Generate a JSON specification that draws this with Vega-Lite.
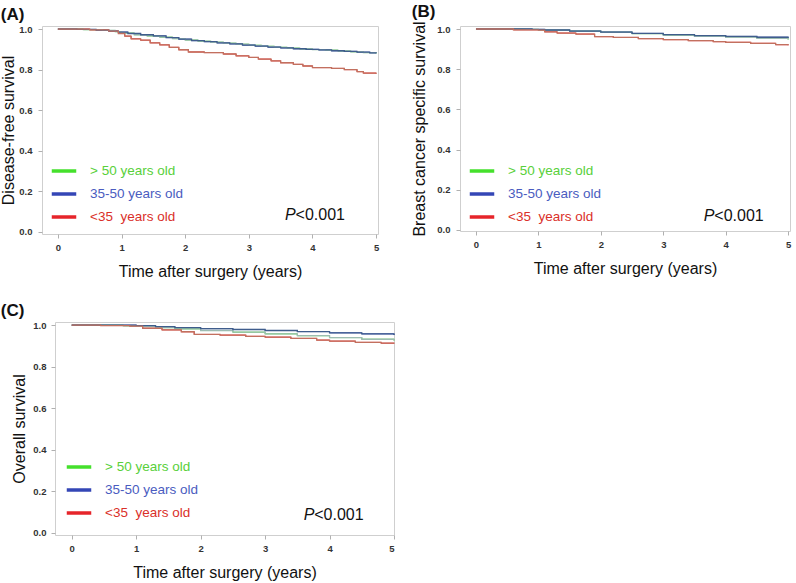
{
  "$schema": "https://vega.github.io/schema/vega-lite/v6.json",
  "padding": {"left": 0, "top": 2, "right": 0, "bottom": 0},
  "background": "white",
  "config": {
    "font": "Liberation Sans",
    "view": {"stroke": "#cfcfcf", "strokeWidth": 1},
    "axis": {"grid": false, "domain": false, "tickColor": "#b0b0b0", "tickSize": 4, "labelFont": "Liberation Sans", "labelFontWeight": "bold", "labelFontSize": 9.5, "labelColor": "#333333", "titleFont": "Liberation Sans", "titleFontWeight": "normal", "titleFontSize": 16, "titleColor": "#111111"},
    "title": {"font": "Liberation Sans", "fontSize": 17, "fontWeight": "bold", "anchor": "start", "frame": "bounds", "color": "#111111"},
    "legend": {"orient": "none", "title": null, "symbolType": "stroke", "symbolStrokeWidth": 3.5, "symbolSize": 600, "symbolOpacity": 1, "labelFontSize": 13.5, "labelOffset": 12, "rowPadding": 2, "padding": 0, "labelFont": "Liberation Sans"}
  },
  "datasets": {
    "a": [
      {"t": 0, "s": 1.0, "g": "> 50 years old"}, {"t": 0.4, "s": 0.997, "g": "> 50 years old"}, {"t": 0.7, "s": 0.993, "g": "> 50 years old"}, {"t": 0.9, "s": 0.987, "g": "> 50 years old"}, {"t": 1.0, "s": 0.98, "g": "> 50 years old"}, {"t": 1.2, "s": 0.972, "g": "> 50 years old"}, {"t": 1.4, "s": 0.966, "g": "> 50 years old"}, {"t": 1.6, "s": 0.96, "g": "> 50 years old"}, {"t": 1.8, "s": 0.953, "g": "> 50 years old"}, {"t": 2.0, "s": 0.946, "g": "> 50 years old"}, {"t": 2.2, "s": 0.94, "g": "> 50 years old"}, {"t": 2.4, "s": 0.935, "g": "> 50 years old"}, {"t": 2.6, "s": 0.93, "g": "> 50 years old"}, {"t": 2.8, "s": 0.925, "g": "> 50 years old"}, {"t": 3.0, "s": 0.92, "g": "> 50 years old"}, {"t": 3.2, "s": 0.915, "g": "> 50 years old"}, {"t": 3.4, "s": 0.91, "g": "> 50 years old"}, {"t": 3.6, "s": 0.906, "g": "> 50 years old"}, {"t": 3.8, "s": 0.902, "g": "> 50 years old"}, {"t": 4.0, "s": 0.899, "g": "> 50 years old"}, {"t": 4.2, "s": 0.896, "g": "> 50 years old"}, {"t": 4.4, "s": 0.892, "g": "> 50 years old"}, {"t": 4.6, "s": 0.888, "g": "> 50 years old"}, {"t": 4.8, "s": 0.884, "g": "> 50 years old"}, {"t": 5.0, "s": 0.88, "g": "> 50 years old"},
      {"t": 0, "s": 1.0, "g": "35-50 years old"}, {"t": 0.3, "s": 0.998, "g": "35-50 years old"}, {"t": 0.6, "s": 0.995, "g": "35-50 years old"}, {"t": 0.8, "s": 0.99, "g": "35-50 years old"}, {"t": 0.95, "s": 0.985, "g": "35-50 years old"}, {"t": 1.1, "s": 0.978, "g": "35-50 years old"}, {"t": 1.3, "s": 0.972, "g": "35-50 years old"}, {"t": 1.5, "s": 0.966, "g": "35-50 years old"}, {"t": 1.7, "s": 0.958, "g": "35-50 years old"}, {"t": 1.9, "s": 0.95, "g": "35-50 years old"}, {"t": 2.1, "s": 0.943, "g": "35-50 years old"}, {"t": 2.3, "s": 0.938, "g": "35-50 years old"}, {"t": 2.5, "s": 0.932, "g": "35-50 years old"}, {"t": 2.7, "s": 0.927, "g": "35-50 years old"}, {"t": 2.9, "s": 0.921, "g": "35-50 years old"}, {"t": 3.1, "s": 0.916, "g": "35-50 years old"}, {"t": 3.3, "s": 0.911, "g": "35-50 years old"}, {"t": 3.5, "s": 0.907, "g": "35-50 years old"}, {"t": 3.7, "s": 0.903, "g": "35-50 years old"}, {"t": 3.9, "s": 0.9, "g": "35-50 years old"}, {"t": 4.1, "s": 0.897, "g": "35-50 years old"}, {"t": 4.3, "s": 0.893, "g": "35-50 years old"}, {"t": 4.5, "s": 0.89, "g": "35-50 years old"}, {"t": 4.7, "s": 0.886, "g": "35-50 years old"}, {"t": 4.9, "s": 0.883, "g": "35-50 years old"}, {"t": 5.0, "s": 0.881, "g": "35-50 years old"},
      {"t": 0, "s": 1.0, "g": "<35\u00a0 years old"}, {"t": 0.5, "s": 0.996, "g": "<35\u00a0 years old"}, {"t": 0.8, "s": 0.99, "g": "<35\u00a0 years old"}, {"t": 0.95, "s": 0.978, "g": "<35\u00a0 years old"}, {"t": 1.05, "s": 0.965, "g": "<35\u00a0 years old"}, {"t": 1.15, "s": 0.952, "g": "<35\u00a0 years old"}, {"t": 1.3, "s": 0.945, "g": "<35\u00a0 years old"}, {"t": 1.45, "s": 0.932, "g": "<35\u00a0 years old"}, {"t": 1.6, "s": 0.922, "g": "<35\u00a0 years old"}, {"t": 1.75, "s": 0.91, "g": "<35\u00a0 years old"}, {"t": 1.9, "s": 0.898, "g": "<35\u00a0 years old"}, {"t": 2.05, "s": 0.887, "g": "<35\u00a0 years old"}, {"t": 2.3, "s": 0.884, "g": "<35\u00a0 years old"}, {"t": 2.6, "s": 0.877, "g": "<35\u00a0 years old"}, {"t": 2.8, "s": 0.868, "g": "<35\u00a0 years old"}, {"t": 3.0, "s": 0.86, "g": "<35\u00a0 years old"}, {"t": 3.15, "s": 0.852, "g": "<35\u00a0 years old"}, {"t": 3.35, "s": 0.843, "g": "<35\u00a0 years old"}, {"t": 3.5, "s": 0.834, "g": "<35\u00a0 years old"}, {"t": 3.7, "s": 0.826, "g": "<35\u00a0 years old"}, {"t": 3.85, "s": 0.818, "g": "<35\u00a0 years old"}, {"t": 4.0, "s": 0.81, "g": "<35\u00a0 years old"}, {"t": 4.3, "s": 0.806, "g": "<35\u00a0 years old"}, {"t": 4.5, "s": 0.8, "g": "<35\u00a0 years old"}, {"t": 4.7, "s": 0.79, "g": "<35\u00a0 years old"}, {"t": 4.8, "s": 0.783, "g": "<35\u00a0 years old"}, {"t": 5.0, "s": 0.78, "g": "<35\u00a0 years old"}
    ],
    "b": [
      {"t": 0, "s": 1.0, "g": "> 50 years old"}, {"t": 0.8, "s": 0.998, "g": "> 50 years old"}, {"t": 1.0, "s": 0.995, "g": "> 50 years old"}, {"t": 1.5, "s": 0.99, "g": "> 50 years old"}, {"t": 2.0, "s": 0.984, "g": "> 50 years old"}, {"t": 2.5, "s": 0.977, "g": "> 50 years old"}, {"t": 3.0, "s": 0.97, "g": "> 50 years old"}, {"t": 3.5, "s": 0.964, "g": "> 50 years old"}, {"t": 4.0, "s": 0.958, "g": "> 50 years old"}, {"t": 4.5, "s": 0.953, "g": "> 50 years old"}, {"t": 5.0, "s": 0.948, "g": "> 50 years old"},
      {"t": 0, "s": 1.0, "g": "35-50 years old"}, {"t": 0.9, "s": 0.998, "g": "35-50 years old"}, {"t": 1.1, "s": 0.995, "g": "35-50 years old"}, {"t": 1.5, "s": 0.99, "g": "35-50 years old"}, {"t": 2.0, "s": 0.985, "g": "35-50 years old"}, {"t": 2.5, "s": 0.978, "g": "35-50 years old"}, {"t": 3.0, "s": 0.972, "g": "35-50 years old"}, {"t": 3.5, "s": 0.967, "g": "35-50 years old"}, {"t": 4.0, "s": 0.963, "g": "35-50 years old"}, {"t": 4.5, "s": 0.959, "g": "35-50 years old"}, {"t": 5.0, "s": 0.955, "g": "35-50 years old"},
      {"t": 0, "s": 1.0, "g": "<35\u00a0 years old"}, {"t": 0.6, "s": 0.996, "g": "<35\u00a0 years old"}, {"t": 1.0, "s": 0.994, "g": "<35\u00a0 years old"}, {"t": 1.1, "s": 0.986, "g": "<35\u00a0 years old"}, {"t": 1.3, "s": 0.98, "g": "<35\u00a0 years old"}, {"t": 1.6, "s": 0.975, "g": "<35\u00a0 years old"}, {"t": 1.9, "s": 0.962, "g": "<35\u00a0 years old"}, {"t": 2.2, "s": 0.958, "g": "<35\u00a0 years old"}, {"t": 2.6, "s": 0.952, "g": "<35\u00a0 years old"}, {"t": 3.0, "s": 0.947, "g": "<35\u00a0 years old"}, {"t": 3.4, "s": 0.942, "g": "<35\u00a0 years old"}, {"t": 3.8, "s": 0.937, "g": "<35\u00a0 years old"}, {"t": 4.0, "s": 0.934, "g": "<35\u00a0 years old"}, {"t": 4.4, "s": 0.929, "g": "<35\u00a0 years old"}, {"t": 4.8, "s": 0.922, "g": "<35\u00a0 years old"}, {"t": 5.0, "s": 0.919, "g": "<35\u00a0 years old"}
    ],
    "c": [
      {"t": 0, "s": 1.0, "g": "> 50 years old"}, {"t": 0.8, "s": 0.997, "g": "> 50 years old"}, {"t": 1.0, "s": 0.994, "g": "> 50 years old"}, {"t": 1.3, "s": 0.988, "g": "> 50 years old"}, {"t": 1.6, "s": 0.982, "g": "> 50 years old"}, {"t": 2.0, "s": 0.974, "g": "> 50 years old"}, {"t": 2.5, "s": 0.966, "g": "> 50 years old"}, {"t": 3.0, "s": 0.958, "g": "> 50 years old"}, {"t": 3.5, "s": 0.949, "g": "> 50 years old"}, {"t": 4.0, "s": 0.94, "g": "> 50 years old"}, {"t": 4.5, "s": 0.932, "g": "> 50 years old"}, {"t": 5.0, "s": 0.926, "g": "> 50 years old"},
      {"t": 0, "s": 1.0, "g": "35-50 years old"}, {"t": 1.0, "s": 0.998, "g": "35-50 years old"}, {"t": 1.3, "s": 0.993, "g": "35-50 years old"}, {"t": 1.6, "s": 0.988, "g": "35-50 years old"}, {"t": 2.0, "s": 0.983, "g": "35-50 years old"}, {"t": 2.5, "s": 0.979, "g": "35-50 years old"}, {"t": 3.0, "s": 0.974, "g": "35-50 years old"}, {"t": 3.5, "s": 0.969, "g": "35-50 years old"}, {"t": 4.0, "s": 0.963, "g": "35-50 years old"}, {"t": 4.5, "s": 0.958, "g": "35-50 years old"}, {"t": 5.0, "s": 0.952, "g": "35-50 years old"},
      {"t": 0, "s": 1.0, "g": "<35\u00a0 years old"}, {"t": 0.45, "s": 0.998, "g": "<35\u00a0 years old"}, {"t": 0.9, "s": 0.995, "g": "<35\u00a0 years old"}, {"t": 1.1, "s": 0.985, "g": "<35\u00a0 years old"}, {"t": 1.4, "s": 0.977, "g": "<35\u00a0 years old"}, {"t": 1.7, "s": 0.968, "g": "<35\u00a0 years old"}, {"t": 1.9, "s": 0.955, "g": "<35\u00a0 years old"}, {"t": 2.3, "s": 0.952, "g": "<35\u00a0 years old"}, {"t": 2.7, "s": 0.946, "g": "<35\u00a0 years old"}, {"t": 3.0, "s": 0.942, "g": "<35\u00a0 years old"}, {"t": 3.4, "s": 0.936, "g": "<35\u00a0 years old"}, {"t": 3.8, "s": 0.928, "g": "<35\u00a0 years old"}, {"t": 4.0, "s": 0.923, "g": "<35\u00a0 years old"}, {"t": 4.4, "s": 0.917, "g": "<35\u00a0 years old"}, {"t": 4.8, "s": 0.913, "g": "<35\u00a0 years old"}, {"t": 5.0, "s": 0.911, "g": "<35\u00a0 years old"}
    ]
  },
  "spacing": 21,
  "resolve": {"scale": {"color": "independent"}, "legend": {"color": "independent"}},
  "vconcat": [
    {
      "spacing": 31,
      "resolve": {"scale": {"color": "independent"}, "legend": {"color": "independent"}},
      "hconcat": [
        {
          "title": {"text": "(A)", "offset": 0},
          "width": 336, "height": 208,
          "resolve": {"scale": {"color": "independent"}, "legend": {"color": "independent"}},
          "layer": [
            {
              "data": {"name": "a"},
              "mark": {"type": "line", "interpolate": "step-after", "strokeWidth": 1},
              "encoding": {
                "x": {"field": "t", "type": "quantitative", "scale": {"domain": [-0.25, 5.03], "nice": false, "zero": false}, "axis": {"values": [0, 1, 2, 3, 4, 5], "format": "d", "title": "Time after surgery (years)", "labelPadding": 4, "titlePadding": 12}},
                "y": {"field": "s", "type": "quantitative", "scale": {"domain": [-0.01, 1.015], "nice": false, "zero": false}, "axis": {"values": [0, 0.2, 0.4, 0.6, 0.8, 1.0], "format": ".1f", "title": "Disease-free survival", "labelPadding": 6, "titlePadding": 2}},
                "color": {"field": "g", "type": "nominal", "scale": {"domain": ["> 50 years old", "35-50 years old", "<35\u00a0 years old"], "range": ["#45e02c", "#3446b6", "#e6242a"]}, "legend": {"legendX": 8, "legendY": 131, "encode": {"labels": {"update": {"fill": {"signal": "indexof(datum.label, '>') === 0 ? '#58d03a' : (indexof(datum.label, '35-') === 0 ? '#4a5cc0' : '#da3029')"}}}}}}
              }
            },
            {
              "data": {"name": "a"},
              "mark": {"type": "line", "interpolate": "step-after", "strokeWidth": 1.3},
              "encoding": {
                "x": {"field": "t", "type": "quantitative"},
                "y": {"field": "s", "type": "quantitative"},
                "color": {"field": "g", "type": "nominal", "scale": {"domain": ["> 50 years old", "35-50 years old", "<35\u00a0 years old"], "range": ["#9dbcb2", "#3f5d8c", "#c2705f"]}, "legend": null}
              }
            },
            {
              "data": {"values": [{"t": 3.57, "s": 0.057, "lab": "P"}]},
              "mark": {"type": "text", "fontSize": 16, "fontStyle": "italic", "align": "left", "baseline": "alphabetic", "color": "#111111"},
              "encoding": {"x": {"field": "t", "type": "quantitative"}, "y": {"field": "s", "type": "quantitative"}, "text": {"field": "lab"}}
            },
            {
              "data": {"values": [{"t": 3.57, "s": 0.057, "lab": "<0.001"}]},
              "mark": {"type": "text", "fontSize": 16, "align": "left", "baseline": "alphabetic", "dx": 10.5, "color": "#111111"},
              "encoding": {"x": {"field": "t", "type": "quantitative"}, "y": {"field": "s", "type": "quantitative"}, "text": {"field": "lab"}}
            }
          ]
        },
        {
          "title": {"text": "(B)", "offset": 0},
          "width": 330, "height": 205,
          "resolve": {"scale": {"color": "independent"}, "legend": {"color": "independent"}},
          "layer": [
            {
              "data": {"name": "b"},
              "mark": {"type": "line", "interpolate": "step-after", "strokeWidth": 1},
              "encoding": {
                "x": {"field": "t", "type": "quantitative", "scale": {"domain": [-0.256, 5.03], "nice": false, "zero": false}, "axis": {"values": [0, 1, 2, 3, 4, 5], "format": "d", "title": "Time after surgery (years)", "labelPadding": 4, "titlePadding": 12}},
                "y": {"field": "s", "type": "quantitative", "scale": {"domain": [-0.005, 1.015], "nice": false, "zero": false}, "axis": {"values": [0, 0.2, 0.4, 0.6, 0.8, 1.0], "format": ".1f", "title": "Breast cancer specific survival", "labelPadding": 6, "titlePadding": 9}},
                "color": {"field": "g", "type": "nominal", "scale": {"domain": ["> 50 years old", "35-50 years old", "<35\u00a0 years old"], "range": ["#45e02c", "#3446b6", "#e6242a"]}, "legend": {"legendX": 8, "legendY": 131, "encode": {"labels": {"update": {"fill": {"signal": "indexof(datum.label, '>') === 0 ? '#58d03a' : (indexof(datum.label, '35-') === 0 ? '#4a5cc0' : '#da3029')"}}}}}}
              }
            },
            {
              "data": {"name": "b"},
              "mark": {"type": "line", "interpolate": "step-after", "strokeWidth": 1.3},
              "encoding": {
                "x": {"field": "t", "type": "quantitative"},
                "y": {"field": "s", "type": "quantitative"},
                "color": {"field": "g", "type": "nominal", "scale": {"domain": ["> 50 years old", "35-50 years old", "<35\u00a0 years old"], "range": ["#9dbcb2", "#3f5d8c", "#c2705f"]}, "legend": null}
              }
            },
            {
              "data": {"values": [{"t": 3.65, "s": 0.046, "lab": "P"}]},
              "mark": {"type": "text", "fontSize": 16, "fontStyle": "italic", "align": "left", "baseline": "alphabetic", "color": "#111111"},
              "encoding": {"x": {"field": "t", "type": "quantitative"}, "y": {"field": "s", "type": "quantitative"}, "text": {"field": "lab"}}
            },
            {
              "data": {"values": [{"t": 3.65, "s": 0.046, "lab": "<0.001"}]},
              "mark": {"type": "text", "fontSize": 16, "align": "left", "baseline": "alphabetic", "dx": 10.5, "color": "#111111"},
              "encoding": {"x": {"field": "t", "type": "quantitative"}, "y": {"field": "s", "type": "quantitative"}, "text": {"field": "lab"}}
            }
          ]
        }
      ]
    },
    {
      "spacing": -46,
      "resolve": {"scale": {"color": "independent"}, "legend": {"color": "independent"}},
      "hconcat": [
        {
          "width": 1, "height": 1,
          "view": {"stroke": null},
          "data": {"values": [{"t": 0}]},
          "mark": {"type": "point", "opacity": 0},
          "encoding": {}
        },
        {
          "title": {"text": "(C)", "offset": 0, "dx": -11},
          "width": 339, "height": 213,
          "resolve": {"scale": {"color": "independent"}, "legend": {"color": "independent"}},
          "layer": [
            {
              "data": {"name": "c"},
              "mark": {"type": "line", "interpolate": "step-after", "strokeWidth": 1},
              "encoding": {
                "x": {"field": "t", "type": "quantitative", "scale": {"domain": [-0.26, 5.0], "nice": false, "zero": false}, "axis": {"values": [0, 1, 2, 3, 4, 5], "format": "d", "title": "Time after surgery (years)", "labelPadding": 4, "titlePadding": 12}},
                "y": {"field": "s", "type": "quantitative", "scale": {"domain": [-0.01, 1.015], "nice": false, "zero": false}, "axis": {"values": [0, 0.2, 0.4, 0.6, 0.8, 1.0], "format": ".1f", "title": "Overall survival", "labelPadding": 5, "titlePadding": 5}},
                "color": {"field": "g", "type": "nominal", "scale": {"domain": ["> 50 years old", "35-50 years old", "<35\u00a0 years old"], "range": ["#45e02c", "#3446b6", "#e6242a"]}, "legend": {"legendX": 10, "legendY": 131, "encode": {"labels": {"update": {"fill": {"signal": "indexof(datum.label, '>') === 0 ? '#58d03a' : (indexof(datum.label, '35-') === 0 ? '#4a5cc0' : '#da3029')"}}}}}}
              }
            },
            {
              "data": {"name": "c"},
              "mark": {"type": "line", "interpolate": "step-after", "strokeWidth": 1.3},
              "encoding": {
                "x": {"field": "t", "type": "quantitative"},
                "y": {"field": "s", "type": "quantitative"},
                "color": {"field": "g", "type": "nominal", "scale": {"domain": ["> 50 years old", "35-50 years old", "<35\u00a0 years old"], "range": ["#9dbcb2", "#3f5d8c", "#c2705f"]}, "legend": null}
              }
            },
            {
              "data": {"values": [{"t": 3.6, "s": 0.064, "lab": "P"}]},
              "mark": {"type": "text", "fontSize": 16, "fontStyle": "italic", "align": "left", "baseline": "alphabetic", "color": "#111111"},
              "encoding": {"x": {"field": "t", "type": "quantitative"}, "y": {"field": "s", "type": "quantitative"}, "text": {"field": "lab"}}
            },
            {
              "data": {"values": [{"t": 3.6, "s": 0.064, "lab": "<0.001"}]},
              "mark": {"type": "text", "fontSize": 16, "align": "left", "baseline": "alphabetic", "dx": 10.5, "color": "#111111"},
              "encoding": {"x": {"field": "t", "type": "quantitative"}, "y": {"field": "s", "type": "quantitative"}, "text": {"field": "lab"}}
            }
          ]
        }
      ]
    }
  ]
}
